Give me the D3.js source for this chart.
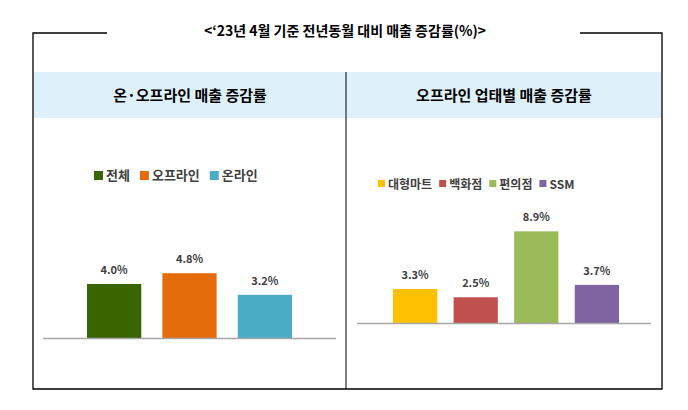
<!DOCTYPE html>
<html><head><meta charset="utf-8">
<script src="https://cdn.jsdelivr.net/npm/d3@7"></script>
<style>body{margin:0;background:#fff}</style>
</head><body>
<svg id="c" width="688" height="410"></svg>
<script>
// data
const leftCats = ["전체", "오프라인", "온라인"];
const leftVals = [4.0, 4.8, 3.2];
const leftColors = ["#386500", "#e46c0a", "#4bacc6"];
const rightCats = ["대형마트", "백화점", "편의점", "SSM"];
const rightVals = [3.3, 2.5, 8.9, 3.7];
const rightColors = ["#ffc000", "#c0504d", "#9bbb59", "#8064a2"];

const svg = d3.select("#c");
const font = "'Noto Sans CJK KR', 'Noto Sans', sans-serif";

// frame
svg.append("path")
  .attr("d", "M107,33 H33 V389 H662 V33 H580")
  .attr("fill", "none").attr("stroke", "#000").attr("stroke-width", 1.3);
svg.append("text").attr("x", 345).attr("y", 36).attr("text-anchor", "middle")
  .attr("font-family", font).attr("font-size", 14).attr("font-weight", "bold")
  .text("<‘23년 4월 기준 전년동월 대비 매출 증감률(%)>");

// header band
svg.append("rect").attr("x", 34).attr("y", 72).attr("width", 627).attr("height", 46).attr("fill", "#def1fb");
svg.append("line").attr("x1", 346).attr("x2", 346).attr("y1", 72).attr("y2", 389).attr("stroke", "#000");
svg.append("text").attr("x", 190).attr("y", 101).attr("text-anchor", "middle")
  .attr("font-family", font).attr("font-size", 15).attr("font-weight", "bold").text("온·오프라인 매출 증감률");
svg.append("text").attr("x", 504).attr("y", 101).attr("text-anchor", "middle")
  .attr("font-family", font).attr("font-size", 15).attr("font-weight", "bold").text("오프라인 업태별 매출 증감률");

function drawChart(cats, vals, colors, opt) {
  const g = svg.append("g");
  const x = d3.scaleBand().domain(cats).range(opt.xr).paddingInner(opt.pad);
  const y = d3.scaleLinear().domain([0, 10]).range([opt.base, opt.base - opt.pxPerUnit * 10]);

  g.selectAll("rect.bar").data(vals).enter().append("rect")
    .attr("x", (d, i) => x(cats[i]))
    .attr("y", d => y(d))
    .attr("width", x.bandwidth())
    .attr("height", d => y(0) - y(d))
    .attr("fill", (d, i) => colors[i]);

  g.selectAll("text.lab").data(vals).enter().append("text")
    .attr("x", (d, i) => x(cats[i]) + x.bandwidth() / 2)
    .attr("y", d => y(d) - 10)
    .attr("text-anchor", "middle")
    .attr("font-family", font).attr("font-size", 11).attr("font-weight", "bold").attr("fill", "#404040")
    .text(d => d.toFixed(1) + "%");

  g.append("line").attr("x1", opt.axis[0]).attr("x2", opt.axis[1])
    .attr("y1", opt.base + 0.5).attr("y2", opt.base + 0.5).attr("stroke", "#a6a6a6").attr("stroke-width", 1.5);

  // legend
  const lg = g.append("g");
  let lx = opt.legendX;
  cats.forEach((c, i) => {
    lg.append("rect").attr("x", lx).attr("y", opt.legendY - 9).attr("width", opt.sq).attr("height", opt.sq).attr("fill", colors[i]);
    const t = lg.append("text").attr("x", lx + opt.sq + 3).attr("y", opt.legendY)
      .attr("font-family", font).attr("font-size", opt.lfs).attr("font-weight", "bold").attr("fill", "#404040").text(c);
    lx += opt.sq + 3 + t.node().getComputedTextLength() + opt.gap;
  });
}

drawChart(leftCats, leftVals, leftColors, {
  xr: [87, 292], pad: 0.28, base: 338, pxPerUnit: 13.5, axis: [43, 336],
  legendX: 94, legendY: 180, sq: 9, lfs: 13, gap: 10
});
drawChart(rightCats, rightVals, rightColors, {
  xr: [393, 619], pad: 0.27, base: 323, pxPerUnit: 10.3, axis: [357, 651],
  legendX: 378, legendY: 189, sq: 7, lfs: 12, gap: 7
});
</script>
</body></html>
